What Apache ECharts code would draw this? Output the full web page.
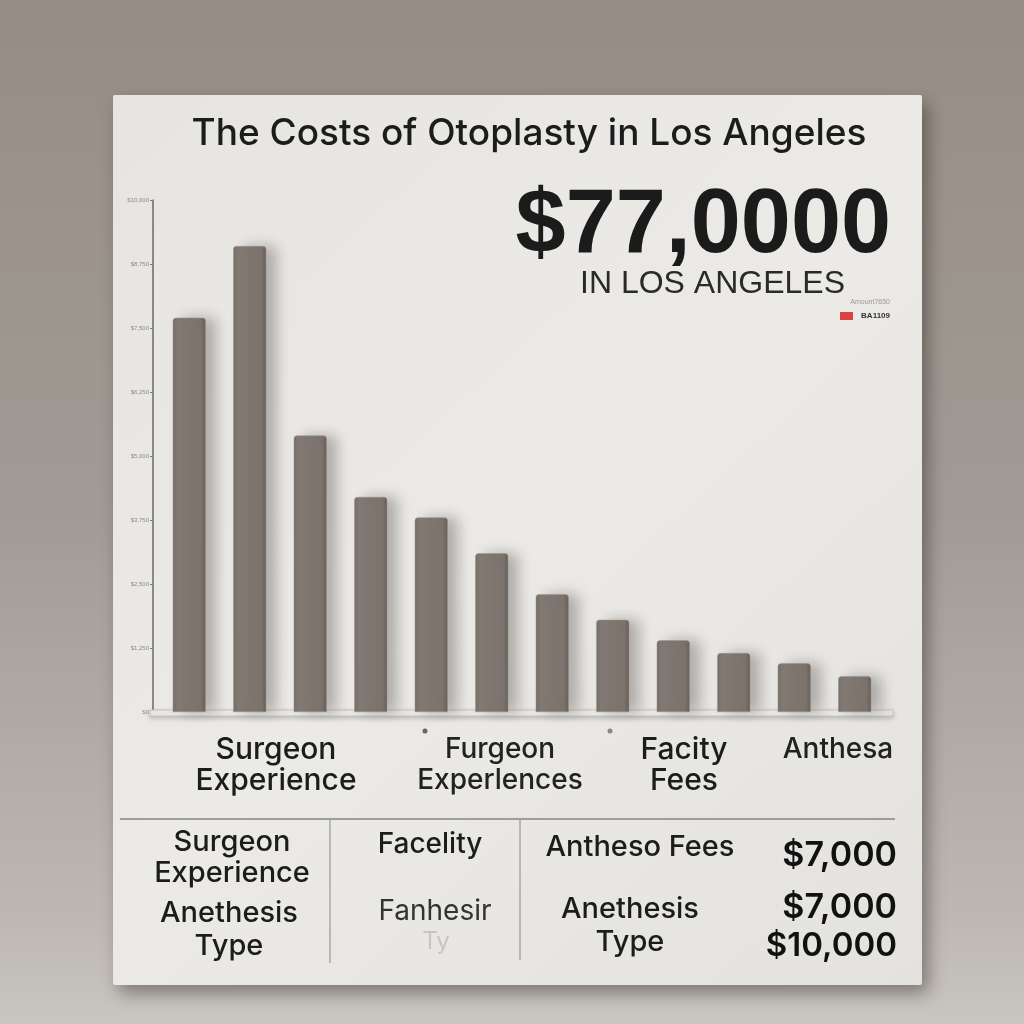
<!DOCTYPE html>
<html>
<head>
<meta charset="utf-8">
<script src="https://cdn.jsdelivr.net/npm/echarts@6/dist/echarts.min.js"></script>
<style>
html,body{margin:0;padding:0;width:1024px;height:1024px;overflow:hidden;}
#chart{width:1024px;height:1024px;}
</style>
</head>
<body>
<div id="chart"></div>
<script>
// ---- data ----
const titleText = "The Costs of Otoplasty in Los Angeles";
const headlineValue = "$77,0000";
const headlineSub = "IN LOS ANGELES";
const categories = ["C1","C2","C3","C4","C5","C6","C7","C8","C9","C10","C11","C12"];
const costValues = [7700, 9100, 5400, 4200, 3800, 3100, 2300, 1800, 1400, 1150, 950, 700];
const axisLabels = ["$0","$1,250","$2,500","$3,750","$5,000","$6,250","$7,500","$8,750","$10,000"];
const groupLabels = ["Surgeon\nExperience", "Furgeon\nExperlences", "Facity\nFees", "Anthesa"];
const tableCol1 = ["Surgeon\nExperience", "Anethesis\nType"];
const tableCol2 = ["Facelity", "Fanhesir"];
const tableCol3 = ["Antheso Fees", "Anethesis\nType"];
const tablePrices = ["$7,000", "$7,000", "$10,000"];

const chart = echarts.init(document.getElementById('chart'), null, {renderer: 'canvas'});
const F = '"Liberation Sans", Arial, sans-serif';
const I = 'Inter, "Liberation Sans", sans-serif';
const ink = '#1c1c1c';

const option = {
  backgroundColor: {
    type: 'linear', x: 0, y: 0, x2: 0, y2: 1,
    colorStops: [
      {offset: 0, color: '#958d85'},
      {offset: 0.5, color: '#a29b95'},
      {offset: 0.9, color: '#bdb8b3'},
      {offset: 1, color: '#c9c5c0'}
    ]
  },
  animation: false,
  grid: {left: 159, right: 139, top: 200, bottom: 312},
  xAxis: {
    type: 'category',
    data: categories,
    axisLine: {show: false},
    axisTick: {show: false},
    axisLabel: {show: false}
  },
  yAxis: {
    type: 'value',
    min: 0, max: 10000, interval: 1250,
    offset: 6,
    axisLine: {show: true, lineStyle: {color: '#6a6a6a', width: 1.5}},
    axisTick: {show: true, inside: false, length: 3, lineStyle: {color: '#777'}},
    axisLabel: {show: true, fontSize: 6, color: '#8a8a8a', margin: 4,
      formatter: (v, i) => axisLabels[i] || ''},
    splitLine: {show: false}
  },
  series: [{
    type: 'bar',
    data: costValues,
    barWidth: 33,
    z: 5,
    itemStyle: {
      color: {
        type: 'linear', x: 0, y: 0, x2: 1, y2: 0,
        colorStops: [
          {offset: 0, color: '#776e68'},
          {offset: 0.15, color: '#837a74'},
          {offset: 0.85, color: '#7c736d'},
          {offset: 1, color: '#685f5a'}
        ]
      },
      borderRadius: [3, 3, 0, 0],
      borderColor: '#9b928c',
      borderWidth: 0.5,
      shadowColor: 'rgba(70,60,55,0.35)',
      shadowBlur: 14,
      shadowOffsetX: 10,
      shadowOffsetY: 0
    }
  }],
  graphic: [
    // board
    {type: 'rect', z: -10, shape: {x: 113, y: 95, width: 809, height: 890, r: 2},
      style: {
        fill: {type: 'linear', x: 0, y: 0, x2: 1, y2: 1,
          colorStops: [{offset: 0, color: '#e6e5e2'}, {offset: 0.5, color: '#ebeae7'}, {offset: 1, color: '#e3e2df'}]},
        shadowColor: 'rgba(40,32,28,0.45)', shadowBlur: 18, shadowOffsetX: 6, shadowOffsetY: 8
      }},
    // shelf under bars
    {type: 'rect', z: 1, shape: {x: 150, y: 710, width: 743, height: 6},
      style: {fill: '#efeeec', stroke: '#c4c2bf', lineWidth: 1,
        shadowColor: 'rgba(0,0,0,0.18)', shadowBlur: 4, shadowOffsetY: 2}},
    // title
    {type: 'text', z: 10, x: 529, y: 134, style: {text: titleText, font: '500 37px ' + I, fill: ink, textAlign: 'center', textVerticalAlign: 'middle'}},
    // headline
    {type: 'text', z: 10, x: 891, y: 227, style: {text: headlineValue, font: 'bold 90px ' + F, fill: '#1b1b1b', textAlign: 'right', textVerticalAlign: 'middle'}},
    {type: 'text', z: 10, x: 845, y: 284, style: {text: headlineSub, font: '32px ' + F, fill: '#2a2a2a', textAlign: 'right', textVerticalAlign: 'middle'}},
    // tiny note
    {type: 'text', z: 10, x: 890, y: 302, style: {text: 'Amount7650', font: '7px ' + F, fill: '#999', textAlign: 'right', textVerticalAlign: 'middle'}},
    {type: 'rect', z: 10, shape: {x: 840, y: 312, width: 13, height: 8}, style: {fill: '#d8433f'}},
    {type: 'text', z: 10, x: 890, y: 316, style: {text: 'BA1109', font: 'bold 8px ' + F, fill: '#333', textAlign: 'right', textVerticalAlign: 'middle'}},
    // group labels under bars
    {type: 'text', z: 10, x: 276, y: 765, style: {text: groupLabels[0], font: '500 30px ' + I, lineHeight: 31, fill: ink, textAlign: 'center', textVerticalAlign: 'middle'}},
    {type: 'text', z: 10, x: 500, y: 765, style: {text: groupLabels[1], font: '500 28px ' + I, lineHeight: 31, fill: '#222', textAlign: 'center', textVerticalAlign: 'middle'}},
    {type: 'text', z: 10, x: 684, y: 765, style: {text: groupLabels[2], font: '500 30px ' + I, lineHeight: 31, fill: ink, textAlign: 'center', textVerticalAlign: 'middle'}},
    {type: 'text', z: 10, x: 838, y: 750, style: {text: groupLabels[3], font: '500 28px ' + I, fill: '#222', textAlign: 'center', textVerticalAlign: 'middle'}},
    {type: 'circle', z: 10, shape: {cx: 425, cy: 731, r: 2.5}, style: {fill: '#666'}},
    {type: 'circle', z: 10, shape: {cx: 610, cy: 731, r: 2.5}, style: {fill: '#888'}},
    // table lines
    {type: 'line', z: 10, shape: {x1: 120, y1: 819, x2: 895, y2: 819}, style: {stroke: '#555', lineWidth: 1}},
    {type: 'line', z: 10, shape: {x1: 330, y1: 820, x2: 330, y2: 963}, style: {stroke: '#888', lineWidth: 1}},
    {type: 'line', z: 10, shape: {x1: 520, y1: 820, x2: 520, y2: 960}, style: {stroke: '#888', lineWidth: 1}},
    // table texts
    {type: 'text', z: 10, x: 232, y: 858, style: {text: tableCol1[0], font: '500 29px ' + I, lineHeight: 31, fill: ink, textAlign: 'center', textVerticalAlign: 'middle'}},
    {type: 'text', z: 10, x: 229, y: 930, style: {text: tableCol1[1], font: '500 29px ' + I, lineHeight: 33, fill: ink, textAlign: 'center', textVerticalAlign: 'middle'}},
    {type: 'text', z: 10, x: 430, y: 845, style: {text: tableCol2[0], font: '500 28px ' + I, fill: ink, textAlign: 'center', textVerticalAlign: 'middle'}},
    {type: 'text', z: 10, x: 435, y: 912, style: {text: tableCol2[1], font: '28px ' + I, fill: '#333', textAlign: 'center', textVerticalAlign: 'middle'}},
    {type: 'text', z: 10, x: 436, y: 942, style: {text: 'Ty', font: '24px ' + I, fill: '#c9c6c2', textAlign: 'center', textVerticalAlign: 'middle'}},
    {type: 'text', z: 10, x: 640, y: 847, style: {text: tableCol3[0], font: '500 29px ' + I, fill: ink, textAlign: 'center', textVerticalAlign: 'middle'}},
    {type: 'text', z: 10, x: 630, y: 926, style: {text: tableCol3[1], font: '500 29px ' + I, lineHeight: 33, fill: ink, textAlign: 'center', textVerticalAlign: 'middle'}},
    {type: 'text', z: 10, x: 897, y: 856, style: {text: tablePrices[0], font: '600 34px ' + I, fill: '#111', textAlign: 'right', textVerticalAlign: 'middle'}},
    {type: 'text', z: 10, x: 897, y: 908, style: {text: tablePrices[1], font: '600 34px ' + I, fill: '#111', textAlign: 'right', textVerticalAlign: 'middle'}},
    {type: 'text', z: 10, x: 897, y: 946, style: {text: tablePrices[2], font: '600 33px ' + I, fill: '#111', textAlign: 'right', textVerticalAlign: 'middle'}}
  ]
};
chart.setOption(option);
</script>
</body>
</html>
